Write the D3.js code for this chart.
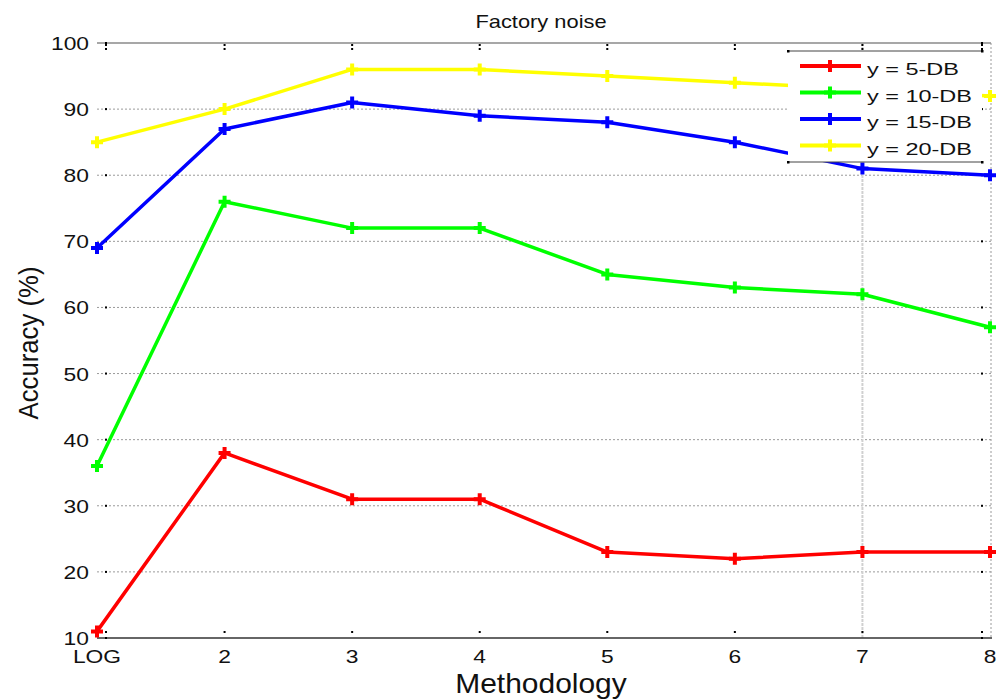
<!DOCTYPE html>
<html>
<head>
<meta charset="utf-8">
<script src="https://cdn.jsdelivr.net/npm/d3@7/dist/d3.min.js"></script>
<style>
  html, body { margin: 0; padding: 0; background: #fff; }
  svg { display: block; font-family: "Liberation Sans", Arial, sans-serif; }
</style>
</head>
<body>
<svg id="chart" width="999" height="700"></svg>
<script>
// Accuracy per methodology under factory noise, one series per SNR level
const categories = ["LOG", "2", "3", "4", "5", "6", "7", "8"];
const yTicks = [10, 20, 30, 40, 50, 60, 70, 80, 90, 100];
const seriesNames = ["y = 5-DB", "y = 10-DB", "y = 15-DB", "y = 20-DB"];
const seriesColors = ["#ff0000", "#00ff00", "#0000ff", "#ffff00"];
const acc5 = [11, 38, 31, 31, 23, 22, 23, 23];
const acc10 = [36, 76, 72, 72, 65, 63, 62, 57];
const acc15 = [69, 87, 91, 89, 88, 85, 81, 80];
const acc20 = [85, 90, 96, 96, 95, 94, 93, 92];
const seriesValues = [acc5, acc10, acc15, acc20];

const svg = d3.select("#chart");
const plotLeft = 97, plotRight = 990, plotTop = 43, plotBottom = 638;

const x = d3.scalePoint().domain(categories).range([plotLeft, plotRight]);
const y = d3.scaleLinear().domain([10, 100]).range([plotBottom, plotTop]);

// Text whose glyphs are widened horizontally by a given factor
function stretchText(g, str, px, py, size, anchor, sx) {
  const t = g.append("text")
    .attr("x", px).attr("y", py)
    .attr("font-size", size)
    .attr("text-anchor", anchor)
    .attr("fill", "#111")
    .text(str);
  const w = t.node().getComputedTextLength();
  t.attr("textLength", w * sx).attr("lengthAdjust", "spacingAndGlyphs");
  return t;
}

// Horizontal dotted grid
const grid = svg.append("g");
grid.selectAll("line.h")
  .data(yTicks.filter(v => v > 10 && v < 100))
  .join("line")
  .attr("x1", plotLeft).attr("x2", plotRight + 1)
  .attr("y1", d => y(d)).attr("y2", d => y(d))
  .attr("stroke", "#9a9a9a").attr("stroke-width", 1)
  .attr("stroke-dasharray", "2,2");

// Vertical grid line at methodology 7 and right frame edge
grid.append("line")
  .attr("x1", x("7")).attr("x2", x("7"))
  .attr("y1", plotTop).attr("y2", plotBottom)
  .attr("stroke", "#d0d0d0").attr("stroke-width", 2)
  .attr("stroke-dasharray", "3,1");
grid.append("line")
  .attr("x1", plotRight + 1).attr("x2", plotRight + 1)
  .attr("y1", plotTop).attr("y2", plotBottom)
  .attr("stroke", "#9a9a9a").attr("stroke-width", 1)
  .attr("stroke-dasharray", "2,2");

// Top frame line and bottom axis line
grid.append("line")
  .attr("x1", plotLeft).attr("x2", plotRight + 1)
  .attr("y1", plotTop).attr("y2", plotTop)
  .attr("stroke", "#8a8a8a").attr("stroke-width", 1.5);
grid.append("line")
  .attr("x1", plotLeft).attr("x2", plotRight + 2)
  .attr("y1", plotBottom).attr("y2", plotBottom)
  .attr("stroke", "#333").attr("stroke-width", 1.5);

// Small dotted tick marks inside the frame
const ticks = svg.append("g").attr("fill", "#000");
yTicks.forEach(v => {
  ticks.append("rect").attr("x", plotLeft + 8).attr("y", y(v) - 1).attr("width", 2).attr("height", 2);
  ticks.append("rect").attr("x", plotRight - 9).attr("y", y(v) - 1).attr("width", 2).attr("height", 2);
});
categories.forEach(c => {
  const cx = c === "LOG" ? x(c) + 9 : (c === "8" ? x(c) - 8 : x(c));
  ticks.append("rect").attr("x", cx - 1).attr("y", plotTop + 1).attr("width", 2).attr("height", 2);
  ticks.append("rect").attr("x", cx - 1).attr("y", plotTop + 5).attr("width", 2).attr("height", 2);
  ticks.append("rect").attr("x", cx - 1).attr("y", plotBottom - 7).attr("width", 2).attr("height", 2);
});

// Axis tick labels
const labels = svg.append("g");
yTicks.forEach(v => {
  stretchText(labels, String(v), plotLeft - 8, y(v) + 7, 19, "end", 1.2);
});
categories.forEach(c => {
  stretchText(labels, c, x(c), 663, 19, "middle", 1.2);
});

// Series lines and plus markers
const line = d3.line().x((d, i) => x(categories[i])).y(d => y(d));
const plot = svg.append("g");
seriesValues.forEach((vals, k) => {
  plot.append("path")
    .attr("d", line(vals))
    .attr("fill", "none")
    .attr("stroke", seriesColors[k])
    .attr("stroke-width", 3.5)
    .attr("stroke-linejoin", "round");
  plot.selectAll(null)
    .data(vals)
    .join("path")
    .attr("transform", (d, i) => `translate(${x(categories[i])},${y(d)})`)
    .attr("d", "M-6,0H6M0,-6V6")
    .attr("stroke", seriesColors[k])
    .attr("stroke-width", 4);
});

// Legend
const lg = svg.append("g");
const lgX = 788, lgY = 51, lgW = 194, lgH = 111;
lg.append("rect").attr("x", lgX).attr("y", lgY).attr("width", lgW).attr("height", lgH).attr("fill", "#fff");
lg.append("line").attr("x1", lgX).attr("x2", lgX + lgW).attr("y1", lgY).attr("y2", lgY)
  .attr("stroke", "#444").attr("stroke-width", 1);
lg.append("line").attr("x1", lgX).attr("x2", lgX + lgW).attr("y1", lgY + lgH).attr("y2", lgY + lgH)
  .attr("stroke", "#444").attr("stroke-width", 1);
[[lgX, lgY], [lgX + lgW, lgY], [lgX, lgY + lgH], [lgX + lgW, lgY + lgH]].forEach(p => {
  lg.append("rect").attr("x", p[0] - 1).attr("y", p[1] - 1).attr("width", 2.5).attr("height", 2.5).attr("fill", "#000");
});
seriesNames.forEach((name, k) => {
  const ly = 66 + k * 26.5;
  lg.append("line").attr("x1", 800).attr("x2", 861).attr("y1", ly).attr("y2", ly)
    .attr("stroke", seriesColors[k]).attr("stroke-width", 4);
  lg.append("path").attr("transform", `translate(830,${ly})`)
    .attr("d", "M-6,0H6M0,-6V6")
    .attr("stroke", seriesColors[k]).attr("stroke-width", 4);
  stretchText(lg, name, 867, ly + 9, 17, "start", 1.38);
});

// Title and axis titles
stretchText(svg, "Factory noise", 541, 28, 19, "middle", 1.15);
stretchText(svg, "Methodology", 541, 693, 28, "middle", 1.07);
svg.append("text")
  .attr("transform", "translate(38,343) rotate(-90)")
  .attr("text-anchor", "middle")
  .attr("font-size", 28)
  .attr("fill", "#111")
  .attr("textLength", 153)
  .attr("lengthAdjust", "spacingAndGlyphs")
  .text("Accuracy (%)");
</script>
</body>
</html>
